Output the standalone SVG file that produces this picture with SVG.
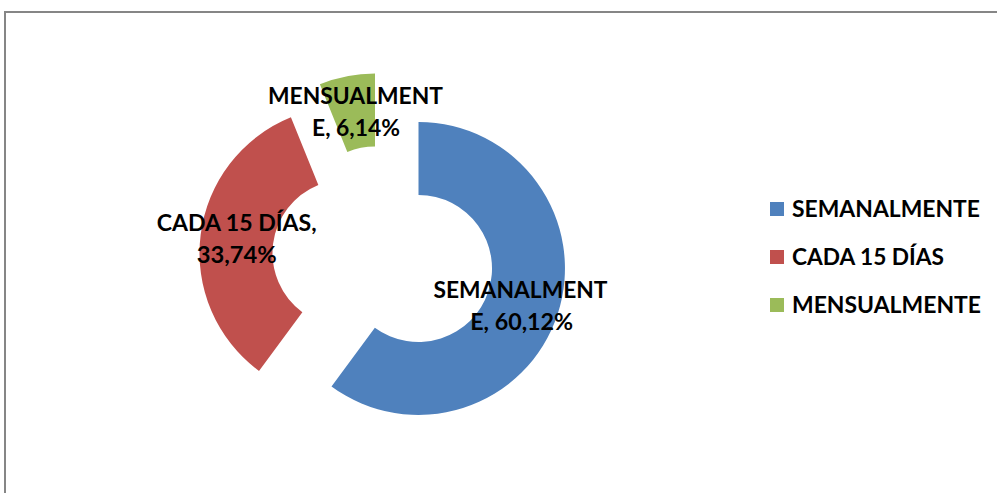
<svg xmlns="http://www.w3.org/2000/svg" width="997" height="493" viewBox="0 0 997 493">
<style>
.lbl{font-family:Lato,"Liberation Sans",sans-serif;font-weight:bold;font-size:22px;fill:#000}
.mid{text-anchor:middle}
</style>
<rect x="0" y="0" width="997" height="493" fill="#fff"/>
<path d="M5,493 L5,12 L997,12" fill="none" stroke="#868686" stroke-width="2"/>
<g id="semanalmente">
<path d="M418.5,122 A146.5,146.5 0 1 1 331.5,386.4 L374.85,327.63 A73.5,73.5 0 1 0 418.5,195 Z" fill="#4F81BD"/>
<text class="lbl mid" x="520.5" y="297.5" textLength="174" lengthAdjust="spacingAndGlyphs">SEMANALMENT</text>
<text class="lbl mid" x="521.7" y="329.5" textLength="103" lengthAdjust="spacingAndGlyphs">E, 60,12%</text>
</g>
<g id="cada15">
<path d="M259,370.9 A146.5,146.5 0 0 1 290.9,117.3 L318.35,184.9 A73.5,73.5 0 0 0 302.35,312.13 Z" fill="#C0504D"/>
<text class="lbl mid" x="236.7" y="231" textLength="160" lengthAdjust="spacingAndGlyphs">CADA 15 DÍAS,</text>
<text class="lbl mid" x="236.7" y="263.3" textLength="80" lengthAdjust="spacingAndGlyphs">33,74%</text>
</g>
<g id="mensualmente">
<path d="M319.9,84.3 A146.5,146.5 0 0 1 375,73.5 L375,146.5 A73.5,73.5 0 0 0 347.35,151.9 Z" fill="#9BBB59"/>
<text class="lbl mid" x="355.5" y="104" textLength="175" lengthAdjust="spacingAndGlyphs">MENSUALMENT</text>
<text class="lbl mid" x="356" y="136" textLength="88" lengthAdjust="spacingAndGlyphs">E, 6,14%</text>
</g>
<g id="legend">
<rect x="770" y="202" width="14" height="14" fill="#4F81BD"/>
<text class="lbl" x="792" y="216.5" textLength="188" lengthAdjust="spacingAndGlyphs">SEMANALMENTE</text>
<rect x="770" y="250" width="14" height="14" fill="#C0504D"/>
<text class="lbl" x="792" y="264.5" textLength="152" lengthAdjust="spacingAndGlyphs">CADA 15 DÍAS</text>
<rect x="770" y="298" width="14" height="14" fill="#9BBB59"/>
<text class="lbl" x="792" y="312.5" textLength="189" lengthAdjust="spacingAndGlyphs">MENSUALMENTE</text>
</g>
<g id="connectors"></g>
</svg>
